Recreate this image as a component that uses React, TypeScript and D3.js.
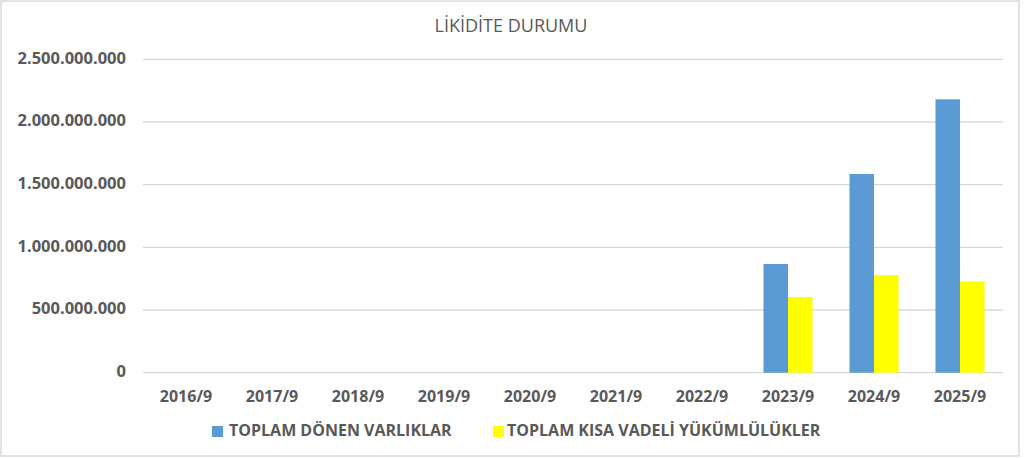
import React from "react";
import * as d3 from "d3";

const categories = ["2016/9", "2017/9", "2018/9", "2019/9", "2020/9", "2021/9", "2022/9", "2023/9", "2024/9", "2025/9"];
const seriesNames = ["TOPLAM DÖNEN VARLIKLAR", "TOPLAM KISA VADELİ YÜKÜMLÜLÜKLER"];
const donenVarliklar = [0, 0, 0, 0, 0, 0, 0, 867000000, 1585000000, 2181000000];
const kisaVadeli = [0, 0, 0, 0, 0, 0, 0, 604000000, 779000000, 729000000];
const yTicks = [0, 500000000, 1000000000, 1500000000, 2000000000, 2500000000];
const title = "LİKİDİTE DURUMU";

const colors = ["#5B9BD5", "#FFFF00"];
const textColor = "#595959";
const gridColor = "#D9D9D9";
const FONT = "'Open Sans', 'Noto Sans', sans-serif";

export default function App() {
  if (typeof document !== "undefined") document.body.style.margin = "0";
  const W = 1024, H = 458;
  const left = 143, right = 1003, top = 59.3, bottom = 372.7;
  const y = d3.scaleLinear().domain([0, 2500000000]).range([bottom, top]);
  const x = d3.scaleBand().domain(categories).range([left, right]).paddingInner(0).paddingOuter(0);
  const bw = x.bandwidth();
  const groupW = bw * 0.57;
  const x1 = d3.scaleBand().domain(seriesNames).range([(bw - groupW) / 2, (bw + groupW) / 2]);
  const data = [donenVarliklar, kisaVadeli];
  const fmt = (v: number) => d3.format(",")(v).replace(/,/g, ".");

  return (
    <svg width={W} height={H} style={{ display: "block", background: "#fff" }} fontFamily={FONT}>
      <rect x={1} y={1} width={1018} height={455} fill="#fff" stroke={gridColor} strokeWidth={1.5} />
      <text x={511} y={27} textAnchor="middle" dominantBaseline="middle" fontSize={18} fontWeight={500} fill={textColor}>{title}</text>
      {yTicks.map((t) => (
        <g key={t}>
          <line x1={left} x2={right} y1={y(t)} y2={y(t)} stroke={gridColor} strokeWidth={1.3} />
          <text x={126} y={y(t)} textAnchor="end" dominantBaseline="middle" fontSize={16.5} fontWeight="bold" fill={textColor}>{fmt(t)}</text>
        </g>
      ))}
      {data.map((vals, si) => (
        <g key={si}>
          {categories.map((c, i) => (
            vals[i] > 0 ? (
              <rect key={c} x={(x(c) as number) + (x1(seriesNames[si]) as number)} y={y(vals[i])} width={x1.bandwidth()} height={y(0) - y(vals[i])} fill={colors[si]} />
            ) : null
          ))}
        </g>
      ))}
      {categories.map((c) => (
        <text key={c} x={(x(c) as number) + bw / 2} y={397.5} textAnchor="middle" dominantBaseline="middle" fontSize={16} fontWeight="bold" fill={textColor}>{c}</text>
      ))}
      <g>
        <rect x={212} y={426} width={11} height={11} fill={colors[0]} />
        <text x={229} y={432} dominantBaseline="middle" fontSize={16} fontWeight="bold" fill={textColor}>{seriesNames[0]}</text>
        <rect x={493} y={426} width={11} height={11} fill={colors[1]} />
        <text x={507} y={432} dominantBaseline="middle" fontSize={16} fontWeight="bold" fill={textColor}>{seriesNames[1]}</text>
      </g>
    </svg>
  );
}
